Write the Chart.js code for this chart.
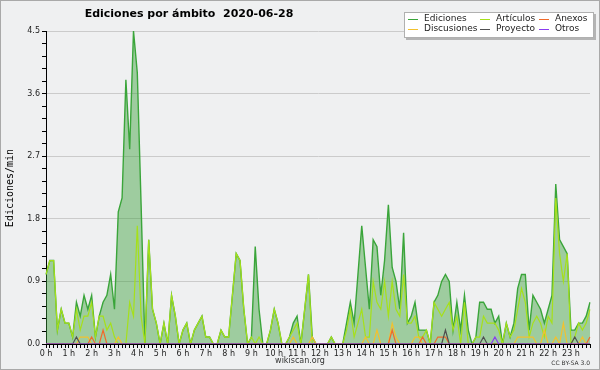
<!DOCTYPE html>
<html>
<head>
<meta charset="utf-8">
<script src="https://cdn.jsdelivr.net/npm/chart.js@4.4.1/dist/chart.umd.min.js"></script>
<style>
  html, body { margin: 0; padding: 0; background: #eff0f1; }
  #caja { width: 600px; height: 370px; }
</style>
</head>
<body>
<div id="caja"><canvas id="grafico" width="600" height="370"></canvas></div>
<script>
// etiquetas de las horas del eje x
const horas = ['0 h','1 h','2 h','3 h','4 h','5 h','6 h','7 h','8 h','9 h','10 h','11 h',
               '12 h','13 h','14 h','15 h','16 h','17 h','18 h','19 h','20 h','21 h','22 h','23 h']

// franjas de 10 minutos
const franjas = [
  '00:00','00:10','00:20','00:30','00:40','00:50','01:00','01:10','01:20','01:30','01:40','01:50',
  '02:00','02:10','02:20','02:30','02:40','02:50','03:00','03:10','03:20','03:30','03:40','03:50',
  '04:00','04:10','04:20','04:30','04:40','04:50','05:00','05:10','05:20','05:30','05:40','05:50',
  '06:00','06:10','06:20','06:30','06:40','06:50','07:00','07:10','07:20','07:30','07:40','07:50',
  '08:00','08:10','08:20','08:30','08:40','08:50','09:00','09:10','09:20','09:30','09:40','09:50',
  '10:00','10:10','10:20','10:30','10:40','10:50','11:00','11:10','11:20','11:30','11:40','11:50',
  '12:00','12:10','12:20','12:30','12:40','12:50','13:00','13:10','13:20','13:30','13:40','13:50',
  '14:00','14:10','14:20','14:30','14:40','14:50','15:00','15:10','15:20','15:30','15:40','15:50',
  '16:00','16:10','16:20','16:30','16:40','16:50','17:00','17:10','17:20','17:30','17:40','17:50',
  '18:00','18:10','18:20','18:30','18:40','18:50','19:00','19:10','19:20','19:30','19:40','19:50',
  '20:00','20:10','20:20','20:30','20:40','20:50','21:00','21:10','21:20','21:30','21:40','21:50',
  '22:00','22:10','22:20','22:30','22:40','22:50','23:00','23:10','23:20','23:30','23:40','23:50'
]

const ediciones = [
  1.0,1.2,1.2,0.2,0.5,0.3, 0.3,0.1,0.6,0.4,0.7,0.5,
  0.7,0.1,0.4,0.6,0.7,1.0, 0.5,1.9,2.1,3.8,2.8,4.5,
  3.9,2.0,0.0,1.5,0.5,0.3, 0.0,0.3,0.0,0.7,0.4,0.0,
  0.2,0.3,0.0,0.2,0.3,0.4, 0.1,0.1,0.0,0.0,0.2,0.1,
  0.1,0.7,1.3,1.2,0.5,0.0, 0.1,1.4,0.5,0.0,0.0,0.2,
  0.5,0.3,0.0,0.0,0.1,0.3, 0.4,0.0,0.5,1.0,0.1,0.0,
  0.0,0.0,0.0,0.1,0.0,0.0, 0.0,0.3,0.6,0.3,1.0,1.7,
  1.1,0.5,1.5,1.4,0.7,1.2, 2.0,1.1,0.9,0.5,1.6,0.3,
  0.4,0.6,0.2,0.2,0.2,0.0, 0.6,0.7,0.9,1.0,0.9,0.2,
  0.6,0.2,0.7,0.2,0.0,0.1, 0.6,0.6,0.5,0.5,0.3,0.4,
  0.0,0.3,0.1,0.3,0.8,1.0, 1.0,0.2,0.7,0.6,0.5,0.3,
  0.5,0.7,2.3,1.5,1.4,1.3, 0.2,0.2,0.3,0.3,0.4,0.6
]
const articulos = [
  1.0,1.2,1.2,0.2,0.5,0.3, 0.3,0.1,0.5,0.2,0.4,0.4,
  0.6,0.1,0.4,0.4,0.2,0.3, 0.1,0.0,0.0,0.0,0.6,0.4,
  1.7,0.4,0.0,1.5,0.5,0.3, 0.0,0.3,0.0,0.7,0.4,0.0,
  0.2,0.3,0.0,0.2,0.3,0.4, 0.1,0.1,0.0,0.0,0.2,0.1,
  0.1,0.7,1.3,1.2,0.5,0.0, 0.1,0.0,0.1,0.0,0.0,0.2,
  0.5,0.3,0.0,0.0,0.1,0.2, 0.3,0.0,0.5,1.0,0.0,0.0,
  0.0,0.0,0.0,0.1,0.0,0.0, 0.0,0.2,0.5,0.1,0.3,0.5,
  0.1,0.1,0.9,0.6,0.5,0.9, 0.4,0.9,0.5,0.4,1.0,0.3,
  0.3,0.4,0.1,0.1,0.2,0.0, 0.6,0.5,0.4,0.5,0.6,0.2,
  0.4,0.0,0.6,0.0,0.0,0.1, 0.1,0.4,0.3,0.3,0.3,0.2,
  0.0,0.3,0.1,0.2,0.5,0.8, 0.6,0.1,0.3,0.4,0.3,0.1,
  0.4,0.3,2.1,1.3,0.9,1.3, 0.0,0.1,0.3,0.2,0.3,0.5
]
const discusiones = [
  0,0,0,0,0,0, 0,0,0,0.1,0.1,0.1,
  0,0,0,0,0,0, 0,0.1,0,0,0,0,
  0,0,0,0,0,0, 0,0,0,0,0,0,
  0,0,0,0,0,0, 0,0,0,0,0,0,
  0,0,0,0,0,0, 0,0,0,0,0,0,
  0,0,0,0,0,0.1, 0,0,0,0,0.1,0,
  0,0,0,0,0,0, 0,0,0,0,0,0,
  0.1,0,0,0.2,0,0, 0,0.3,0.1,0,0,0,
  0,0.1,0.1,0,0,0, 0,0,0,0,0,0,
  0,0,0,0,0,0, 0,0,0,0,0,0,
  0,0,0,0,0.1,0.1, 0.1,0.1,0.1,0,0,0.2,
  0,0,0.1,0,0.3,0, 0,0,0,0.1,0,0
]
const anexos = [
  0,0,0,0,0,0, 0,0,0,0,0,0,
  0.1,0,0,0.2,0,0, 0,0,0,0,0,0,
  0,0,0,0,0,0, 0,0,0,0,0,0,
  0,0,0,0,0,0, 0,0,0,0,0,0,
  0,0,0,0,0,0, 0,0,0,0,0,0,
  0,0,0,0,0,0, 0,0,0,0,0,0,
  0,0,0,0,0,0, 0,0,0,0,0,0,
  0,0,0,0,0,0, 0,0.2,0,0,0,0,
  0,0,0,0.1,0,0, 0,0.1,0.1,0.1,0,0,
  0,0,0,0,0,0, 0,0,0,0,0,0,
  0,0,0,0,0,0, 0,0,0,0,0,0,
  0,0,0,0,0,0, 0,0,0,0,0,0.1
]
const proyecto = [
  0,0,0,0,0,0, 0,0,0.1,0,0,0,
  0,0,0,0,0,0, 0,0,0,0,0,0,
  0,0,0,0,0,0, 0,0,0,0,0,0,
  0,0,0,0,0,0, 0,0,0,0,0,0,
  0,0,0,0,0,0, 0,0,0,0,0,0,
  0,0,0,0,0,0, 0,0,0,0,0,0,
  0,0,0,0,0,0, 0,0,0,0,0,0,
  0,0,0,0,0,0, 0,0,0,0,0,0,
  0,0,0,0,0,0, 0,0,0,0.2,0,0,
  0,0,0,0,0,0, 0,0.1,0,0,0,0,
  0,0,0,0,0,0, 0,0,0,0,0,0,
  0,0,0,0,0,0, 0,0.1,0,0,0,0
]
const otros = [
  0,0,0,0,0,0, 0,0,0,0,0,0,
  0,0,0,0,0,0, 0,0,0,0,0,0,
  0,0,0,0,0,0, 0,0,0,0,0,0,
  0,0,0,0,0,0, 0,0,0,0,0,0,
  0,0,0,0,0,0, 0,0,0,0,0,0,
  0,0,0,0,0,0, 0,0,0,0,0,0,
  0,0,0,0,0,0, 0,0,0,0,0,0,
  0,0,0,0,0,0, 0,0,0,0,0,0,
  0,0,0,0,0,0, 0,0,0,0,0,0,
  0,0,0,0,0,0, 0,0,0,0,0.1,0,
  0,0,0,0,0,0, 0,0,0,0,0,0,
  0,0,0,0,0,0, 0,0,0,0,0,0
]

const esMayor = (v) => Math.abs(v / 0.9 - Math.round(v / 0.9)) < 1e-6

const linea = (etiqueta, datos, color, orden) => {
  return { label: etiqueta, data: datos, borderColor: color, borderWidth: 1.2,
           fill: false, pointRadius: 0, tension: 0, order: orden }
}

// fondo gris y borde del cuadro
const fondo = {
  id: 'fondo',
  beforeDraw(chart) {
    const ctx = chart.ctx
    ctx.save()
    ctx.fillStyle = '#eff0f1'
    ctx.fillRect(0, 0, chart.width, chart.height)
    ctx.strokeStyle = '#a9a9a9'
    ctx.lineWidth = 1
    ctx.strokeRect(0.5, 0.5, chart.width - 1, chart.height - 1)
    ctx.restore()
  }
}

// titulo, leyenda y textos al pie
const textos = {
  id: 'textos',
  afterDraw(chart) {
    const ctx = chart.ctx
    ctx.save()
    ctx.fillStyle = '#000'
    ctx.font = 'bold 11px "DejaVu Sans"'
    ctx.textAlign = 'center'
    ctx.textBaseline = 'middle'
    ctx.fillText('Ediciones por ámbito  2020-06-28', 189, 14)

    ctx.save()
    ctx.translate(10, 188)
    ctx.rotate(-Math.PI / 2)
    ctx.font = '10px "DejaVu Sans Mono"'
    ctx.fillText('Ediciones/min', 0, 0)
    ctx.restore()

    ctx.font = '8px "DejaVu Sans"'
    ctx.fillStyle = '#333'
    ctx.fillText('wikiscan.org', 300, 361)
    ctx.font = '6px "DejaVu Sans"'
    ctx.textAlign = 'right'
    ctx.fillText('CC BY-SA 3.0', 590, 363)

    // leyenda
    ctx.fillStyle = '#b4b4b4'
    ctx.fillRect(406, 14, 190, 26)
    ctx.fillStyle = '#fff'
    ctx.fillRect(404, 12, 190, 26)
    ctx.strokeStyle = '#b0b0b0'
    ctx.strokeRect(404.5, 12.5, 189, 25)
    const pos = [[408, 19], [480, 19], [408, 29], [480, 29], [539, 19], [539, 29]]
    const orden = [0, 1, 3, 4, 2, 5]
    ctx.font = '9px "DejaVu Sans"'
    ctx.textAlign = 'left'
    orden.forEach((d, k) => {
      const ds = chart.data.datasets[d]
      const [x, y] = pos[k]
      ctx.strokeStyle = ds.borderColor
      ctx.lineWidth = 1
      ctx.beginPath()
      ctx.moveTo(x, y + 0.5)
      ctx.lineTo(x + 10, y + 0.5)
      ctx.stroke()
      ctx.fillStyle = '#222'
      ctx.fillText(ds.label, x + 16, y)
    })
    ctx.restore()
  }
}

new Chart(document.getElementById('grafico'), {
  type: 'line',
  data: {
    labels: franjas,
    datasets: [
      { label: 'Ediciones', data: ediciones, borderColor: '#3aa53a', borderWidth: 1.4,
        backgroundColor: 'rgba(60,160,60,0.45)', fill: 'origin', pointRadius: 0, tension: 0, order: 6 },
      linea('Artículos', articulos, '#a6e01a', 5),
      linea('Anexos', anexos, '#f06a2a', 3),
      linea('Discusiones', discusiones, '#f2c12e', 4),
      linea('Proyecto', proyecto, '#505050', 2),
      linea('Otros', otros, '#8a3cf0', 1)
    ]
  },
  options: {
    responsive: false,
    animation: false,
    layout: { padding: { left: 0, right: 10, top: 31, bottom: 0 } },
    plugins: { legend: { display: false }, title: { display: false }, tooltip: { enabled: false } },
    scales: {
      x: {
        afterFit: (s) => { s.height = 26 },
        border: { display: true, color: '#000', width: 1 },
        grid: { drawOnChartArea: false, tickColor: '#000', tickLength: 4 },
        ticks: {
          autoSkip: false, maxRotation: 0, padding: 1,
          color: '#222', font: { family: 'DejaVu Sans', size: 8 },
          callback: (v, i) => i % 6 === 0 ? horas[i / 6] : ''
        }
      },
      y: {
        min: 0, max: 4.5,
        afterFit: (s) => { s.width = 46 },
        border: { display: true, color: '#000', width: 1 },
        grid: {
          color: (c) => (c.tick && esMayor(c.tick.value)) ? '#cbcbcb' : 'rgba(0,0,0,0)',
          tickColor: '#000', tickLength: 4
        },
        ticks: {
          stepSize: 0.18, autoSkip: false, padding: 2,
          color: '#222', font: { family: 'DejaVu Sans', size: 8 },
          callback: (v) => esMayor(v) ? v.toFixed(1) : ''
        }
      }
    }
  },
  plugins: [fondo, textos]
})
</script>
</body>
</html>
